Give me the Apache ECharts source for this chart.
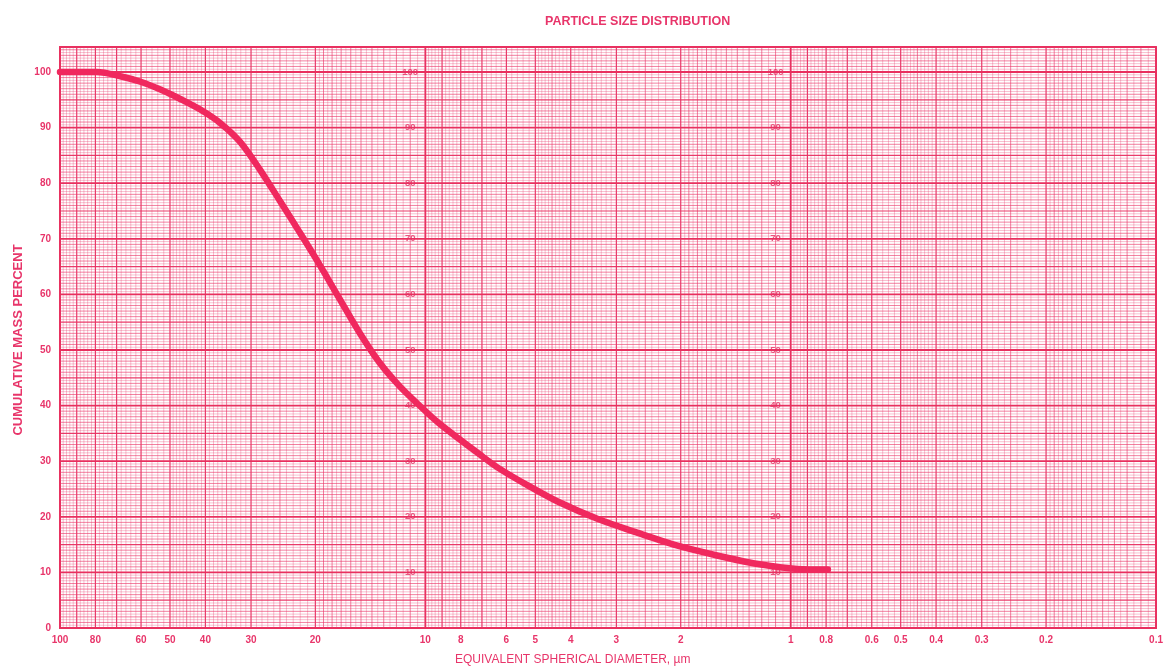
<!DOCTYPE html>
<html><head><meta charset="utf-8">
<script src="https://cdn.jsdelivr.net/npm/echarts@6/dist/echarts.min.js"></script>
<style>html,body{margin:0;padding:0;background:#fff}#c{width:1166px;height:669px}</style>
</head><body><div id="c"></div>
<script>
// ---- data ----
const diameters = [100, 79.4, 67.9, 59.9, 52.9, 46.7, 41.2, 36.4, 32.1, 28.4, 25.0, 22.1, 19.5, 17.2, 15.2, 13.4, 11.8, 10.45, 9.21, 8.12, 7.16, 6.32, 5.23, 4.33, 3.37, 2.62, 2.04, 1.58, 1.23, 0.957, 0.791];
const cumulativePercent = [100, 100, 99.2, 98.2, 96.8, 95.1, 93.2, 90.8, 87.4, 82.5, 76.8, 71.2, 65.4, 59.3, 53.3, 47.9, 43.6, 40.2, 36.9, 34.1, 31.4, 28.8, 25.6, 22.7, 19.6, 17.1, 14.8, 13.0, 11.5, 10.6, 10.5];
const xTickLabels = [100, 80, 60, 50, 40, 30, 20, 10, 8, 6, 5, 4, 3, 2, 1, 0.8, 0.6, 0.5, 0.4, 0.3, 0.2, 0.1];
const yTickLabels = [0, 10, 20, 30, 40, 50, 60, 70, 80, 90, 100];
const innerScaleLabels = [100, 90, 80, 70, 60, 50, 40, 30, 20, 10];
const innerScaleColumns = [11, 1.1];

const PINK = '#e8356a';

// ---- graph-paper rulings (decoration) ----
const rulings = [];
[0.1, 1, 10].forEach(function (dec) {
  for (let m = 100; m < 1000;) {
    let level;
    if (m === 100) level = 3;
    else if (m % 100 === 0) level = 2;
    else if ((m < 200 && m % 10 === 0) || (m >= 200 && m % 50 === 0)) level = 1;
    else level = 0;
    rulings.push([dec * m / 100, 0, level, 0]);
    m += (m < 200 ? 5 : (m < 500 ? 10 : 20));
  }
});
for (let k = 1; k <= 209; k++) {
  const y = k / 2;
  let level = (y % 10 === 0) ? 3 : (y % 5 === 0 ? 2 : (y % 1 === 0 ? 1 : 0));
  rulings.push([1, y, level, 1]);
}
const rulingStyles = [
  { stroke: 'rgba(234,60,110,0.55)', lineWidth: 0.6 },
  { stroke: 'rgba(234,55,105,0.8)', lineWidth: 0.8 },
  { stroke: 'rgba(232,48,98,0.95)', lineWidth: 1.2 },
  { stroke: '#e8305f', lineWidth: 1.8 }
];

function renderRuling(params, api) {
  const cs = params.coordSys;
  const level = api.value(2), orient = api.value(3);
  let shape;
  if (orient === 0) {
    const p = api.coord([api.value(0), 50]);
    shape = { x1: p[0], y1: cs.y, x2: p[0], y2: cs.y + cs.height };
  } else {
    const p = api.coord([1, api.value(1)]);
    shape = { x1: cs.x, y1: p[1], x2: cs.x + cs.width, y2: p[1] };
  }
  return { type: 'line', shape: shape, style: rulingStyles[level], silent: true };
}

const curveData = diameters.map(function (d, i) { return [d, cumulativePercent[i]]; });
const innerData = [];
innerScaleColumns.forEach(function (x) {
  innerScaleLabels.forEach(function (v) { innerData.push([x, v]); });
});

const chart = echarts.init(document.getElementById('c'), null, { renderer: 'canvas' });
chart.setOption({
  animation: false,
  backgroundColor: '#ffffff',
  title: {
    text: 'PARTICLE SIZE DISTRIBUTION',
    left: 540, top: 10,
    textStyle: { fontFamily: 'Liberation Sans', fontSize: 12.5, fontWeight: 'bold', color: PINK }
  },
  grid: { left: 60, right: 9, top: 47, bottom: 41, show: true, borderColor: '#e8305f', borderWidth: 1.8, backgroundColor: '#fff' },
  xAxis: {
    type: 'log', logBase: 10, min: 0.1, max: 100, inverse: true,
    axisLine: { show: true, lineStyle: { color: '#e8305f', width: 1.8 } },
    axisTick: { show: false },
    splitLine: { show: false },
    axisLabel: {
      customValues: xTickLabels,
      formatter: function (v) { return String(v); },
      color: PINK, fontFamily: 'Liberation Sans', fontWeight: 'bold', fontSize: 10, margin: 7
    }
  },
  yAxis: {
    type: 'value', min: 0, max: 104.5, interval: 10,
    axisLine: { show: true, lineStyle: { color: '#e8305f', width: 1.8 } },
    axisTick: { show: false },
    splitLine: { show: false },
    axisLabel: {
      formatter: function (v) { return (yTickLabels.indexOf(v) >= 0) ? String(v) : ''; },
      color: PINK, fontFamily: 'Liberation Sans', fontWeight: 'bold', fontSize: 10, margin: 9
    }
  },
  graphic: [
    { type: 'text', left: 455, top: 654, style: { text: 'EQUIVALENT SPHERICAL DIAMETER, µm', fill: PINK, font: '12px "Liberation Sans"' } },
    { type: 'text', x: 18, y: 340, rotation: Math.PI / 2, style: { text: 'CUMULATIVE MASS PERCENT', fill: PINK, font: 'bold 13px "Liberation Sans"', align: 'center', verticalAlign: 'middle' } }
  ],
  series: [
    { type: 'custom', renderItem: renderRuling, data: rulings, z: 1, silent: true, clip: true },
    {
      type: 'scatter', data: innerData, symbol: 'circle', symbolSize: 1, z: 3, silent: true,
      itemStyle: { color: 'rgba(0,0,0,0)' },
      label: { show: true, position: 'inside', formatter: function (p) { return String(p.value[1]); },
        color: '#e62f63', fontFamily: 'Liberation Sans', fontWeight: 'bold', fontSize: 9.5 }
    },
    {
      type: 'line', data: curveData, smooth: 0.3, symbol: 'none', z: 5,
      lineStyle: { color: '#f0285e', width: 6.5, cap: 'round' }
    }
  ]
});
</script>
</body></html>
